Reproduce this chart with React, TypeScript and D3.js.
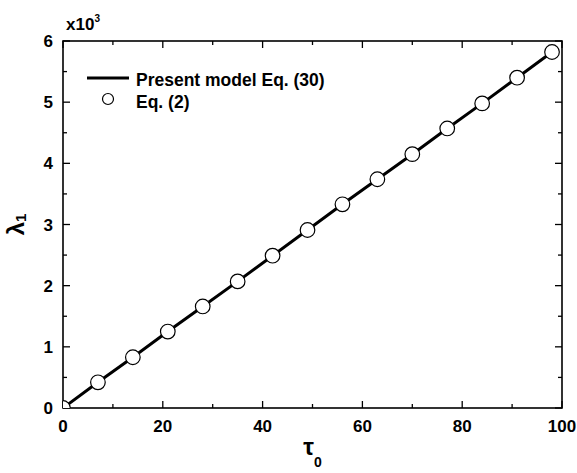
import React, { useEffect, useRef } from 'react';
import * as d3 from 'd3';

// tau_0 values and lambda_1 (x10^3)
const tau = [0, 7, 14, 21, 28, 35, 42, 49, 56, 63, 70, 77, 84, 91, 98];
const lambda = [0, 0.42, 0.83, 1.25, 1.66, 2.07, 2.49, 2.91, 3.33, 3.74, 4.15, 4.57, 4.98, 5.4, 5.82];
const xTicks = [0, 20, 40, 60, 80, 100];
const yTicks = [0, 1, 2, 3, 4, 5, 6];
const legendLabels = ['Present model Eq. (30)', 'Eq. (2)'];

export default function App() {
  const ref = useRef<SVGSVGElement>(null);

  useEffect(() => {
    const svg = d3.select(ref.current);
    svg.selectAll('*').remove();

    const margin = { top: 41, right: 15, bottom: 65, left: 63 };
    const width = 577 - margin.left - margin.right;
    const height = 473 - margin.top - margin.bottom;
    const font = 'Liberation Sans, Arial, sans-serif';

    const x = d3.scaleLinear().domain([0, 100]).range([0, width]);
    const y = d3.scaleLinear().domain([0, 6]).range([height, 0]);

    const g = svg.append('g').attr('transform', `translate(${margin.left},${margin.top})`);

    g.append('clipPath').attr('id', 'clip')
      .append('rect').attr('width', width).attr('height', height);

    // ticks, inward on all four sides
    const xMinor = d3.range(0, 101, 10);
    const yMinor = d3.range(0, 6.01, 0.5);
    const tk = g.append('g').attr('stroke', '#000').attr('stroke-width', 1.3);
    xMinor.forEach(v => {
      const len = v % 20 === 0 ? 7 : 4;
      tk.append('line').attr('x1', x(v)).attr('x2', x(v)).attr('y1', height).attr('y2', height - len);
      tk.append('line').attr('x1', x(v)).attr('x2', x(v)).attr('y1', 0).attr('y2', len);
    });
    yMinor.forEach(v => {
      const len = Math.abs(v - Math.round(v)) < 1e-6 ? 7 : 4;
      tk.append('line').attr('y1', y(v)).attr('y2', y(v)).attr('x1', 0).attr('x2', len);
      tk.append('line').attr('y1', y(v)).attr('y2', y(v)).attr('x1', width).attr('x2', width - len);
    });

    // frame
    g.append('rect').attr('width', width).attr('height', height)
      .attr('fill', 'none').attr('stroke', '#000').attr('stroke-width', 1.6);

    // tick labels
    g.selectAll('.xl').data(xTicks).enter().append('text')
      .attr('x', d => x(d)).attr('y', height + 24)
      .attr('text-anchor', 'middle').attr('font-family', font).attr('font-weight', 'bold')
      .attr('font-size', 17).text(d => d);
    g.selectAll('.yl').data(yTicks).enter().append('text')
      .attr('x', -10).attr('y', d => y(d) + 6)
      .attr('text-anchor', 'end').attr('font-family', font).attr('font-weight', 'bold')
      .attr('font-size', 17).text(d => d);

    // x10^3 multiplier
    const mult = g.append('text').attr('x', 3).attr('y', -11)
      .attr('font-family', font).attr('font-weight', 'bold').attr('font-size', 17);
    mult.append('tspan').text('x10');
    mult.append('tspan').attr('font-size', 10).attr('dy', -8).text('3');

    // axis titles
    const xt = g.append('text').attr('x', width / 2).attr('y', height + 47)
      .attr('text-anchor', 'middle').attr('font-family', font).attr('font-weight', 'bold').attr('font-size', 24);
    xt.append('tspan').text('τ');
    xt.append('tspan').attr('font-size', 14).attr('dy', 12).text('0');

    const yt = g.append('text')
      .attr('transform', `translate(${-39},${height / 2}) rotate(-90)`)
      .attr('text-anchor', 'middle').attr('font-family', font).attr('font-weight', 'bold').attr('font-size', 24);
    yt.append('tspan').text('λ');
    yt.append('tspan').attr('font-size', 15).attr('dy', 2).text('1');

    // line and points
    const plot = g.append('g').attr('clip-path', 'url(#clip)');
    plot.append('path')
      .datum(tau.map((t, i) => [t, lambda[i]] as [number, number]))
      .attr('fill', 'none').attr('stroke', '#000').attr('stroke-width', 3)
      .attr('d', d3.line().x(d => x(d[0])).y(d => y(d[1])));
    plot.selectAll('circle').data(tau).enter().append('circle')
      .attr('cx', d => x(d)).attr('cy', (d, i) => y(lambda[i]))
      .attr('r', 7.3).attr('fill', '#fff').attr('stroke', '#000').attr('stroke-width', 1.2);

    // legend
    const lg = g.append('g');
    lg.append('line').attr('x1', 24).attr('x2', 66).attr('y1', 37).attr('y2', 37)
      .attr('stroke', '#000').attr('stroke-width', 3);
    lg.append('circle').attr('cx', 45).attr('cy', 58).attr('r', 5.5)
      .attr('fill', '#fff').attr('stroke', '#000').attr('stroke-width', 1.2);
    lg.selectAll('text').data(legendLabels).enter().append('text')
      .attr('x', 73).attr('y', (d, i) => 45 + i * 22)
      .attr('font-family', font).attr('font-weight', 'bold').attr('font-size', 17.5).text(d => d);
  }, []);

  return (
    <svg ref={ref} width={577} height={473} style={{ position: 'absolute', left: 0, top: 0, background: '#fff' }} />
  );
}
